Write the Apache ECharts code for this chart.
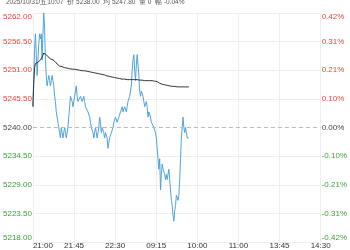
<!DOCTYPE html>
<html><head><meta charset="utf-8">
<script src="https://cdn.jsdelivr.net/npm/echarts@6/dist/echarts.min.js"></script>
<style>html,body{margin:0;padding:0;background:#fff}#c{width:350px;height:250px}</style>
</head><body><div id="c"></div>
<script>
var titleText = '2025/10/31/五10:07  价 5238.00  均 5247.80  量 0  幅 -0.04%';
var prevClose = 5240;
var yMin = 5218, yMax = 5262, yStep = 5.5;
var timeLabels = ['21:00','21:45','22:30','09:15','10:00','11:00','13:45','14:30'];
var totalMinutes = 346;
var price = [5244,5250,5255,5258,5254,5250,5253,5256,5258,5257,5258,5253,5258,5262,5259,5253,5250,5248,5249,5250,
5249,5248,5249,5250,5249,5248,5246,5245,5243,5242,5241,5240,5239,5238,5240,5239,5238,5239,5240,5239,
5238,5239,5240,5242,5244,5246,5246,5245,5244,5245,5246,5247,5248,5246,5245,5245,5245,5246,5246,5245,
5245,5246,5245,5244,5244,5244,5243,5243,5242,5241,5240,5240,5239,5238,5239,5240,5239,5238,5239,5240,
5242,5241,5239,5240,5240,5239,5238,5239,5239,5238,5236,5237,5238,5238,5239,5239,5240,5241,5241,5242,
5242,5241,5241,5242,5242,5243,5243,5244,5243,5243,5244,5244,5243,5244,5245,5245,5246,5246,5248,5251,
5253,5254,5251,5249,5252,5254,5252,5250,5247,5246,5247,5247,5246,5245,5244,5244,5245,5244,5242,5243,
5243,5242,5241,5241,5241,5240,5240,5239,5238,5236,5234,5232,5234,5228,5231,5233,5232,5232,5231,5230,
5231,5230,5231,5232,5230,5228,5226,5225,5223,5222,5224,5225,5227,5227,5226,5227,5230,5234,5238,5240,
5242,5240,5239,5240,5239,5238,5238,5238];
var avg = [5244.0,5248.5,5251.5,5252.3,5252.5,5252.4,5252.5,5252.7,5252.8,5253.0,5253.2,5253.5,5253.9,5254.3,5254.5,5254.3,5254.0,5253.8,5253.6,5253.5,
5253.3,5253.2,5253.1,5253.1,5253.0,5252.9,5252.8,5252.6,5252.4,5252.2,5252.0,5251.9,5251.8,5251.8,5251.7,5251.7,5251.6,5251.6,5251.5,5251.5,
5251.4,5251.4,5251.4,5251.3,5251.3,5251.3,5251.3,5251.2,5251.2,5251.2,5251.2,5251.1,5251.1,5251.1,5251.1,5251.0,5251.0,5251.0,5251.0,5250.9,
5250.9,5250.9,5250.9,5250.8,5250.8,5250.8,5250.7,5250.7,5250.7,5250.6,5250.6,5250.6,5250.5,5250.5,5250.5,5250.4,5250.4,5250.4,5250.4,5250.3,
5250.3,5250.3,5250.3,5250.2,5250.2,5250.1,5250.1,5250.0,5250.0,5249.9,5249.9,5249.8,5249.8,5249.7,5249.7,5249.7,5249.6,5249.6,5249.6,5249.5,
5249.5,5249.5,5249.5,5249.4,5249.4,5249.4,5249.4,5249.3,5249.3,5249.3,5249.3,5249.3,5249.2,5249.2,5249.2,5249.2,5249.2,5249.2,5249.2,5249.2,
5249.2,5249.2,5249.2,5249.2,5249.2,5249.2,5249.2,5249.1,5249.1,5249.1,5249.1,5249.1,5249.1,5249.1,5249.0,5249.0,5249.0,5249.0,5249.0,5249.0,
5249.0,5249.0,5249.0,5249.0,5249.0,5249.0,5248.9,5248.9,5248.9,5248.8,5248.7,5248.6,5248.5,5248.4,5248.4,5248.3,5248.3,5248.3,5248.2,5248.2,
5248.2,5248.1,5248.1,5248.1,5248.0,5248.0,5248.0,5247.9,5247.9,5247.9,5247.9,5247.9,5247.8,5247.8,5247.8,5247.8,5247.8,5247.8,5247.8,5247.8,
5247.8,5247.8,5247.8,5247.8,5247.8,5247.8,5247.8,5247.8];

var RED = '#e8453c', GREEN = '#3a9e3a', DARK = '#444';
var minuteCats = [];
for (var i = 0; i < totalMinutes; i++) minuteCats.push(String(i));
function colorFor(v){ return v > prevClose ? RED : (v < prevClose ? GREEN : DARK); }
var splitColors = [];
for (var k = 0; k <= Math.round((yMax - yMin) / yStep); k++) {
  splitColors.push(yMin + k * yStep === prevClose ? 'rgba(0,0,0,0)' : '#eeeeee');
}
var chart = echarts.init(document.getElementById('c'), null, {renderer: 'canvas'});
chart.setOption({
  animation: false,
  textStyle: {fontFamily: 'Liberation Sans, Arial, sans-serif'},
  title: {text: titleText, left: 1, top: -6, textStyle: {fontSize: 6.5, fontWeight: 'normal', color: '#555'}},
  grid: {left: 28, right: 22, top: 13, bottom: 4, containLabel: false},
  xAxis: [
    {type: 'category', data: timeLabels, boundaryGap: false, position: 'bottom',
     axisLine: {show: false}, axisTick: {show: false},
     axisLabel: {fontSize: 8, color: '#333', margin: 0, interval: 0, alignMinLabel: 'left'},
     splitLine: {show: true, lineStyle: {color: '#eeeeee', width: 1}}},
    {type: 'category', data: minuteCats, boundaryGap: false, show: false}
  ],
  yAxis: [
    {type: 'value', min: yMin, max: yMax, interval: yStep, position: 'left',
     axisLine: {show: false}, axisTick: {show: false},
     axisLabel: {fontSize: 8, margin: 1, verticalAlignMinLabel: 'bottom', verticalAlignMaxLabel: 'top',
       formatter: function(v){ return v.toFixed(2); },
       color: function(v){ return colorFor(Number(v)); }},
     splitLine: {show: true, lineStyle: {color: splitColors, width: 1}}},
    {type: 'value', min: yMin, max: yMax, interval: yStep, position: 'right',
     axisLine: {show: false}, axisTick: {show: false},
     axisLabel: {fontSize: 8, margin: 1, verticalAlignMinLabel: 'bottom', verticalAlignMaxLabel: 'top',
       formatter: function(v){ return ((v - prevClose) / prevClose * 100).toFixed(2) + '%'; },
       color: function(v){ return colorFor(Number(v)); }},
     splitLine: {show: false}}
  ],
  series: [
    {type: 'line', name: '价', xAxisIndex: 1, yAxisIndex: 0, data: price, showSymbol: false,
     lineStyle: {color: '#4ea3da', width: 1}, itemStyle: {color: '#4ea3da'},
     markLine: {silent: true, symbol: ['none','none'], label: {show: false},
       lineStyle: {color: '#bbbbbb', type: [4, 3], width: 1}, data: [{yAxis: prevClose}]}},
    {type: 'line', name: '均', xAxisIndex: 1, yAxisIndex: 0, data: avg, showSymbol: false,
     lineStyle: {color: '#333333', width: 1}, itemStyle: {color: '#333333'}}
  ]
});
</script>
</body></html>
